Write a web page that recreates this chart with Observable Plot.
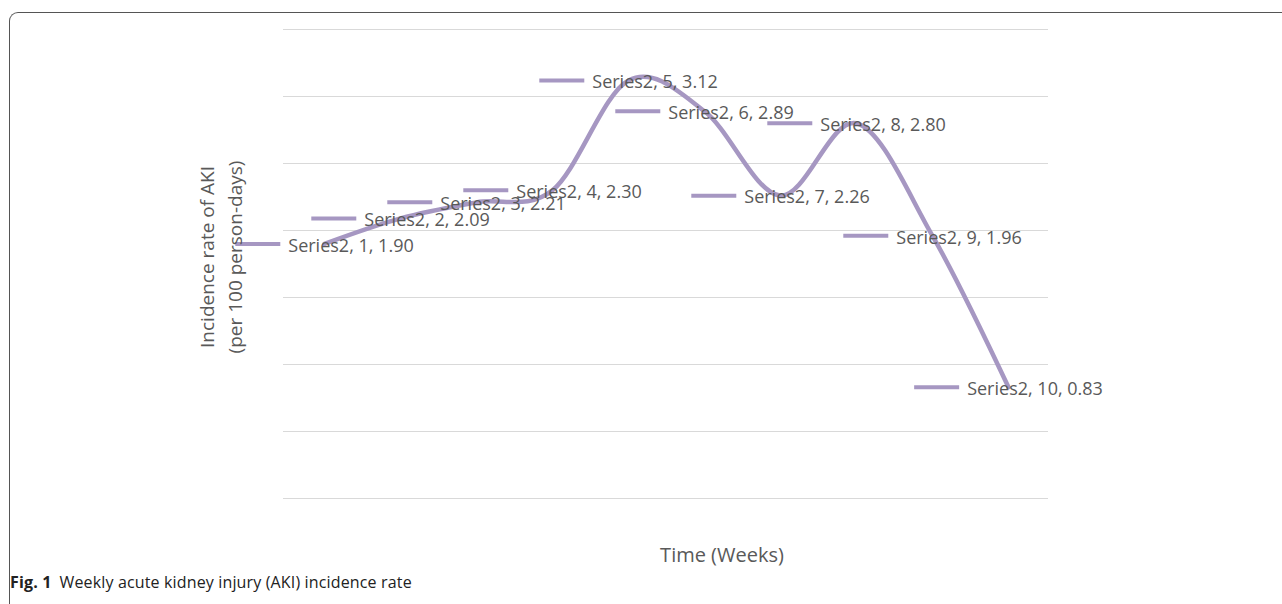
<!DOCTYPE html>
<html>
<head>
<meta charset="utf-8">
<script src="https://cdn.jsdelivr.net/npm/d3@7"></script>
<script src="https://cdn.jsdelivr.net/npm/@observablehq/plot@0.6"></script>
<style>
  html, body { margin: 0; padding: 0; background: #fff; }
  #wrap { position: relative; width: 1282px; height: 604px; overflow: hidden; }
  #frame { position: absolute; left: 9px; top: 12px; width: 1400px; height: 700px;
           border-top: 1.3px solid #555; border-left: 1.3px solid #555; border-top-left-radius: 9px; box-sizing: border-box; }
  #chart { position: absolute; left: 0; top: 0; }
  #caption { position: absolute; left: 10px; top: 571px; font-family: "Open Sans", sans-serif; font-size: 16px;
             color: #222; white-space: nowrap; letter-spacing: 0.15px; }
  #caption b { font-weight: 700; margin-right: 8px; }
</style>
</head>
<body>
<div id="wrap">
  <div id="frame"></div>
  <div id="chart"></div>
  <div id="caption"><b>Fig. 1</b>Weekly acute kidney injury (AKI) incidence rate</div>
</div>
<script>
const weeks = [1, 2, 3, 4, 5, 6, 7, 8, 9, 10];
const rates = [1.90, 2.09, 2.21, 2.30, 3.12, 2.89, 2.26, 2.80, 1.96, 0.83];
const seriesName = "Series2";
const yTicks = [0, 0.5, 1, 1.5, 2, 2.5, 3, 3.5];

const data = weeks.map((w, i) => ({week: w, rate: rates[i], label: `${seriesName}, ${w}, ${rates[i].toFixed(2)}`}));

const color = "#a697c2";
const textColor = "#595959";
const labelSize = 18;

const ctx = document.createElement("canvas").getContext("2d");
ctx.font = `${labelSize}px 'Open Sans'`;

const dashW = 45, gap = 8;
const dashSymbol = {
  draw(c, size) {
    c.rect(-dashW / 2, -2, dashW, 4);
  }
};

const labelMarks = data.flatMap(d => {
  const tw = ctx.measureText(d.label).width;
  const total = dashW + gap + tw;
  return [
    Plot.dot([d], {x: "week", y: "rate", symbol: dashSymbol, r: 5, fill: color, stroke: null, dx: -total / 2 + dashW / 2}),
    Plot.text([d], {x: "week", y: "rate", text: "label", textAnchor: "start", dx: -total / 2 + dashW + gap,
      fill: textColor, fontSize: labelSize, fontFamily: "Open Sans", dy: 2})
  ];
});

const W = 1282, H = 568;
const plot = Plot.plot({
  width: W,
  height: H,
  marginLeft: 283,
  marginRight: 234,
  marginTop: 29,
  marginBottom: H - 498,
  style: {background: "transparent", fontFamily: "Open Sans"},
  x: {type: "point", domain: weeks, padding: 0.5, axis: null},
  y: {domain: [0, 3.5], axis: null},
  marks: [
    Plot.ruleY(yTicks, {stroke: "#d9d9d9", strokeWidth: 1.2}),
    Plot.line(data, {x: "week", y: "rate", curve: "cardinal", tension: 0, stroke: color, strokeWidth: 4.5, strokeLinecap: "round"}),
    ...labelMarks,
    Plot.text(["Time (Weeks)"], {frameAnchor: "bottom", dy: 63, dx: 56, fill: textColor, fontSize: 20, fontFamily: "Open Sans"}),
    Plot.text(["Incidence rate of AKI"], {frameAnchor: "left", textAnchor: "middle", dx: -76, dy: -7, rotate: -90, fill: textColor, fontSize: 19, fontFamily: "Open Sans"}),
    Plot.text(["(per 100 person-days)"], {frameAnchor: "left", textAnchor: "middle", dx: -48, dy: -7, rotate: -90, fill: textColor, fontSize: 19, fontFamily: "Open Sans"})
  ]
});
document.getElementById("chart").appendChild(plot);
</script>
</body>
</html>
